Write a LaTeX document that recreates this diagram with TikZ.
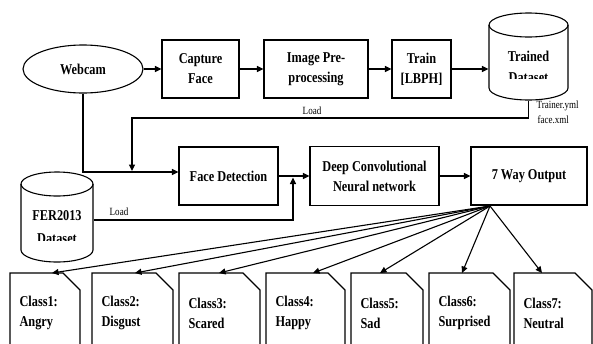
\documentclass[tikz,border=0pt]{standalone}
\usepackage{fontspec}
\setmainfont{Liberation Serif}[FakeStretch=0.82]
\usetikzlibrary{arrows.meta,shapes.geometric,calc}
\begin{document}
\begin{tikzpicture}[x=1pt,y=-1pt, line width=1.1pt,
  bigtxt/.style={font=\bfseries\fontsize{15}{20}\selectfont},
  box/.style={draw, rectangle, inner sep=0, bigtxt, align=center},
  arr/.style={-{Triangle[length=6.5pt,width=6pt]}},
  lbl/.style={font=\fontsize{11}{13}\selectfont, inner sep=0}]
\clip (0,0) rectangle (593,343);
% top row
\node[draw, ellipse, minimum width=120, minimum height=48, inner sep=0, bigtxt] (webcam) at (83,69) {Webcam};
\node[box, minimum width=77, minimum height=58] (capture) at (200.5,69) {Capture\\Face};
\node[box, minimum width=104, minimum height=58] (image) at (316,69) {Image Pre-\\processing};
\node[box, minimum width=59, minimum height=58] (train) at (421.5,69) {Train\\{[LBPH]}};
% trained dataset cylinder
\node[minimum width=79, minimum height=87, inner sep=0] (td) at (528.5,56.5) {};
\draw (489,25) -- (489,88) arc[start angle=180, end angle=0, x radius=39.5, y radius=12] -- (568,25);
\draw (528.5,25) ellipse [x radius=39.5, y radius=12];
\node[bigtxt, inner sep=0] (tdt) at (528.5,56) {Trained};
\begin{scope}
\clip (480,62) rectangle (580,78.5);
\node[bigtxt, inner sep=0] (tdd) at (528.5,78) {Dataset};
\end{scope}
% FER2013 cylinder
\node[minimum width=72, minimum height=90, inner sep=0] (fer) at (57,220) {};
\draw (21,184) -- (21,250) arc[start angle=180, end angle=0, x radius=36, y radius=12] -- (93,184);
\draw (57,184) ellipse [x radius=36, y radius=12];
\node[bigtxt, inner sep=0] (fert) at (57,216) {FER2013};
\begin{scope}
\clip (15,226) rectangle (100,240.5);
\node[bigtxt, inner sep=0] (ferd) at (57,239) {Dataset};
\end{scope}
% middle row
\node[box, minimum width=99, minimum height=58] (fd) at (228.5,176) {Face Detection};
\node[box, minimum width=129, minimum height=59] (dcnn) at (374.5,176) {Deep Convolutional\\Neural network};
\node[box, minimum width=116, minimum height=58] (out) at (529,176) {7 Way Output};
% connectors
\draw[arr] (webcam.east) -- (capture.west);
\draw[arr] (capture) -- (image);
\draw[arr] (image) -- (train);
\draw[arr] (train.east) -- (train.east -| td.west);
\coordinate (jn) at (132,171);
\draw[arr] (td.south) |- (132,118) -- (jn);
\draw[arr] (webcam.south) |- ([yshift=4pt]fd.west);
\coordinate (kn) at (293,177.5);
\draw[arr] (fer.east) -| (kn);
\draw[arr] (fd) -- (dcnn);
\draw[arr] (dcnn) -- (out);
% labels
\node[lbl] (l1) at (312,111) {Load};
\node[lbl] (l2) at (119,212) {Load};
\node[lbl, anchor=west] (l3) at (536,106) {Trainer.yml};
\node[lbl, anchor=west] (l4) at (537,120) {face.xml};
% fan out
\coordinate (fan) at (490,206);
\foreach \n/\xa/\xb/\tx/\lab in {1/10/80/52/Angry, 2/92/173/135/Disgust, 3/179/260/219/Scared, 4/266/345/313/Happy, 5/351/423/380/Sad, 6/429/510/462/Surprised, 7/514/592/542/Neutral} {
  \draw (\xa,350) -- (\xa,273) -- ({\xb-17},273) -- (\xb,290) -- (\xb,350);
  \node[anchor=west, align=left, bigtxt, inner sep=0] (c\n) at ({\xa+9},313) {Class\n:\\\lab};
  \coordinate (t\n) at (\tx,273);
  \draw[arr] (fan) -- (t\n);
}
\end{tikzpicture}
\end{document}
